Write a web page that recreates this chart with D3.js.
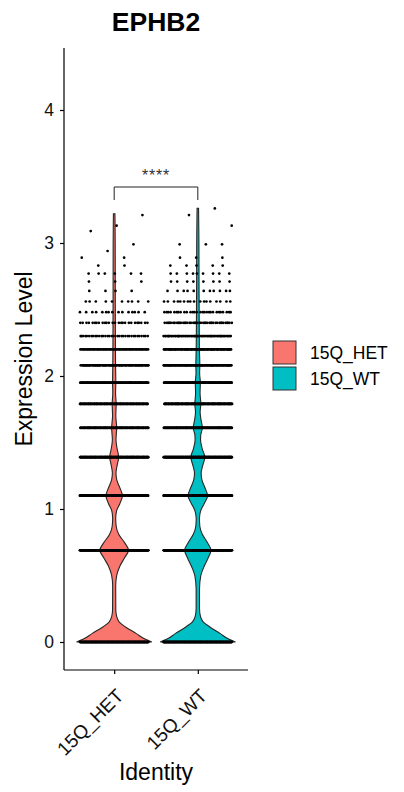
<!DOCTYPE html>
<html>
<head>
<meta charset="utf-8">
<script src="https://d3js.org/d3.v7.min.js"></script>
<style>
  html, body { margin: 0; padding: 0; background: #fff; }
  svg { display: block; font-family: "Liberation Sans", Arial, sans-serif; }
</style>
</head>
<body>
<svg id="chart" width="404" height="792"></svg>
<script>
// Groups and fill colours
const groups = ["15Q_HET", "15Q_WT"];
const colors = ["#F8766D", "#00BFC4"];

// Y axis ticks
const yTicks = [0, 1, 2, 3, 4];

// Violin outline per group: [expression level, relative half-width]
const violinHET = [
  [0, 1.0], [0.02, 0.83], [0.065, 0.58], [0.115, 0.29], [0.15, 0.135], [0.19, 0.067],
  [0.24, 0.043], [0.42, 0.040], [0.50, 0.067], [0.57, 0.15], [0.63, 0.27], [0.69, 0.38],
  [0.75, 0.27], [0.81, 0.12], [0.87, 0.053], [0.93, 0.040], [0.99, 0.067], [1.04, 0.15],
  [1.10, 0.22], [1.16, 0.15], [1.22, 0.067], [1.27, 0.048], [1.33, 0.08], [1.39, 0.12],
  [1.45, 0.08], [1.52, 0.048], [1.61, 0.067], [1.70, 0.043], [1.79, 0.053], [1.87, 0.037],
  [1.95, 0.043], [2.08, 0.037], [2.30, 0.032], [2.60, 0.029], [3.00, 0.027], [3.22, 0.02]
];
const violinWT = [
  [0, 1.0], [0.02, 0.83], [0.065, 0.59], [0.115, 0.31], [0.15, 0.147], [0.19, 0.072],
  [0.25, 0.045], [0.40, 0.045], [0.50, 0.08], [0.57, 0.17], [0.63, 0.27], [0.69, 0.35],
  [0.75, 0.25], [0.81, 0.12], [0.87, 0.053], [0.93, 0.043], [0.99, 0.08], [1.04, 0.17],
  [1.10, 0.26], [1.16, 0.19], [1.22, 0.107], [1.27, 0.088], [1.33, 0.133], [1.39, 0.187],
  [1.45, 0.12], [1.52, 0.072], [1.56, 0.08], [1.61, 0.12], [1.68, 0.08], [1.73, 0.061],
  [1.79, 0.08], [1.87, 0.059], [1.95, 0.067], [2.02, 0.048], [2.08, 0.053], [2.20, 0.043],
  [2.40, 0.037], [2.70, 0.032], [3.00, 0.029], [3.26, 0.02]
];

// Cells per discrete expression level: [level, number of cells]
const cellsHET = [
  [0, 300], [0.69, 250], [1.10, 200], [1.39, 160], [1.61, 130], [1.79, 110], [1.95, 95],
  [2.08, 80], [2.20, 55], [2.30, 35], [2.40, 26], [2.48, 15], [2.56, 10], [2.64, 4],
  [2.71, 3], [2.77, 6], [2.83, 2], [2.89, 2], [2.94, 1], [2.99, 1], [3.09, 1], [3.13, 1], [3.21, 1]
];
const cellsWT = [
  [0, 300], [0.69, 260], [1.10, 220], [1.39, 180], [1.61, 150], [1.79, 130], [1.95, 110],
  [2.08, 95], [2.20, 75], [2.30, 60], [2.40, 42], [2.48, 28], [2.56, 17], [2.64, 11],
  [2.71, 8], [2.77, 9], [2.83, 5], [2.89, 3], [2.99, 3], [3.13, 1], [3.21, 1], [3.26, 1]
];

const violins = [violinHET, violinWT];
const cells = [cellsHET, cellsWT];
const signif = "****";

const svg = d3.select("#chart");
const panel = { left: 64, right: 248, top: 48, bottom: 670 };

const x = d3.scalePoint().domain(groups).range([panel.left, panel.right]).padding(0.6);
const y = d3.scaleLinear().domain([0, 4]).range([642, 110]);
const halfMax = x.step() * 0.45;
const w = d3.scaleLinear().domain([0, 1]).range([0, halfMax]);
const jitterHalf = x.step() * 0.41;

// Violins
groups.forEach((g, i) => {
  const cx = x(g);
  const prof = violins[i].slice().sort((a, b) => b[0] - a[0]);
  const area = d3.area()
    .y(d => y(d[0]))
    .x0(d => cx - w(d[1]))
    .x1(d => cx + w(d[1]))
    .curve(d3.curveMonotoneY);
  svg.append("path")
    .attr("d", area(prof))
    .attr("fill", colors[i])
    .attr("stroke", "#262626")
    .attr("stroke-width", 1.1);
});

// Jittered cells (deterministic spread across the jitter width)
groups.forEach((g, i) => {
  const cx = x(g);
  const pts = [];
  cells[i].forEach(([lvl, n], k) => {
    for (let j = 0; j < n; j++) {
      const u = ((j + 1) * 0.6180339887 + k * 0.377 + i * 0.213) % 1;
      pts.push({ v: lvl, dx: (u * 2 - 1) * jitterHalf });
    }
  });
  svg.append("g").selectAll("circle").data(pts).join("circle")
    .attr("cx", d => cx + d.dx)
    .attr("cy", d => y(d.v))
    .attr("r", 1.35)
    .attr("fill", "#000");
});

// Axes
const yAxis = d3.axisLeft(y).tickValues(yTicks).tickSize(4).tickPadding(6).tickFormat(d3.format("d"));
const gy = svg.append("g").attr("transform", `translate(${panel.left},0)`).call(yAxis);
gy.select(".domain").attr("d", `M0,${panel.top}V${panel.bottom}`).attr("stroke", "#000").attr("stroke-width", 1.2);
gy.selectAll(".tick line").attr("stroke", "#000").attr("stroke-width", 1.2);
gy.selectAll(".tick text").attr("font-size", 17.5).attr("fill", "#111");

const xAxis = d3.axisBottom(x).tickSize(4).tickSizeOuter(0);
const gx = svg.append("g").attr("transform", `translate(0,${panel.bottom})`).call(xAxis);
gx.select(".domain").attr("d", `M${panel.left},0H${panel.right}`).attr("stroke", "#000").attr("stroke-width", 1.2);
gx.selectAll(".tick line").attr("stroke", "#000").attr("stroke-width", 1.2);
gx.selectAll(".tick text")
  .attr("font-size", 19).attr("fill", "#111")
  .attr("text-anchor", "end")
  .attr("dy", null)
  .attr("y", 0)
  .attr("transform", "translate(10,27) rotate(-45)");

// Axis titles
svg.append("text")
  .attr("transform", `translate(32,${(panel.top + panel.bottom) / 2}) rotate(-90)`)
  .attr("text-anchor", "middle")
  .attr("font-size", 23)
  .text("Expression Level");
svg.append("text")
  .attr("x", (panel.left + panel.right) / 2)
  .attr("y", 780)
  .attr("text-anchor", "middle")
  .attr("font-size", 23)
  .text("Identity");

// Title
svg.append("text")
  .attr("x", (panel.left + panel.right) / 2)
  .attr("y", 31)
  .attr("text-anchor", "middle")
  .attr("font-size", 26.5)
  .attr("font-weight", "bold")
  .text("EPHB2");

// Significance bracket
const by = 187, bDrop = 13;
const x1 = x(groups[0]), x2 = x(groups[1]);
svg.append("path")
  .attr("d", `M${x1},${by + bDrop}V${by}H${x2}V${by + bDrop}`)
  .attr("fill", "none")
  .attr("stroke", "#222")
  .attr("stroke-width", 1);
svg.append("text")
  .attr("x", (x1 + x2) / 2)
  .attr("y", 181)
  .attr("text-anchor", "middle")
  .attr("font-size", 16)
  .attr("letter-spacing", 0.8)
  .attr("fill", "#333")
  .text(signif);

// Legend
const lg = svg.append("g").attr("transform", "translate(273,341)");
groups.forEach((g, i) => {
  lg.append("rect")
    .attr("x", 0).attr("y", i * 26)
    .attr("width", 23).attr("height", 23)
    .attr("fill", colors[i])
    .attr("stroke", "#333").attr("stroke-width", 1);
  lg.append("text")
    .attr("x", 37).attr("y", i * 26 + 11.5)
    .attr("dominant-baseline", "central")
    .attr("font-size", 17.5)
    .text(g);
});
</script>
</body>
</html>
